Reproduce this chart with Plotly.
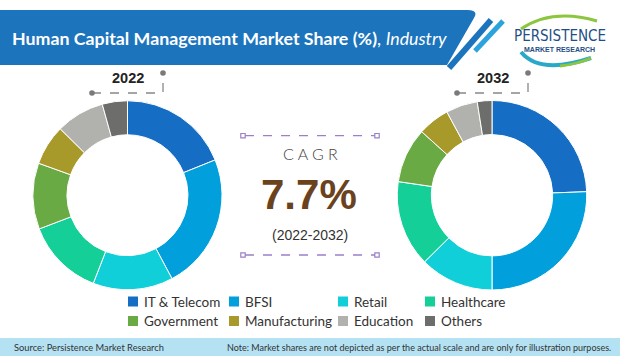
import plotly.graph_objects as go

# ---- data ----
industries = ["IT & Telecom", "BFSI", "Retail", "Healthcare",
              "Government", "Manufacturing", "Education", "Others"]
share_2022 = [18.9, 23.3, 13.7, 13.3, 11.3, 6.9, 8.3, 4.3]
share_2032 = [24.4, 25.6, 12.6, 14.7, 9.4, 5.4, 5.4, 2.5]
colors = ["#166dc4", "#019fdb", "#10cfd9", "#14cf97",
          "#6aaa44", "#a8992b", "#b1b1ad", "#6d6d6b"]
years = ["2022", "2032"]
cagr_value = "7.7%"
cagr_period = "(2022-2032)"
title_main = "Human Capital Management Market Share (%)"
title_sub = "Industry"
source_text = "Source: Persistence Market Research"
note_text = "Note: Market shares are not depicted as per the actual scale and are only for illustration purposes."

W, H = 620, 356

fig = go.Figure()

# donuts
domains = [dict(x=[33 / W, 222 / W], y=[1 - 290 / H, 1 - 100.5 / H]),
           dict(x=[397 / W, 587 / W], y=[1 - 290 / H, 1 - 100.5 / H])]
for vals, dom, yr in zip([share_2022, share_2032], domains, years):
    fig.add_trace(go.Pie(
        labels=industries, values=vals, domain=dom, hole=0.64,
        sort=False, direction="clockwise", rotation=0,
        marker=dict(colors=colors, line=dict(color="white", width=1)),
        textinfo="none", hoverinfo="label+percent", showlegend=False, name=yr))

# invisible pixel axes for decorations
fig.add_trace(go.Scatter(x=[0, W], y=[0, H], mode="markers",
                         marker=dict(opacity=0), showlegend=False, hoverinfo="skip"))

shapes = []
annotations = []

# header band
shapes.append(dict(type="path", xref="x", yref="y",
                   path="M 0 10 L 467 10 Q 479 10 474 18 L 447 65 L 0 65 Z",
                   fillcolor="#1c74bc", line=dict(width=0), layer="below"))
shapes.append(dict(type="line", xref="x", yref="y", x0=449, y0=68, x1=491, y1=20,
                   line=dict(color="#1c74bc", width=6)))
shapes.append(dict(type="line", xref="x", yref="y", x0=475, y0=51, x1=503, y1=21,
                   line=dict(color="#2ba3dc", width=5)))
annotations.append(dict(x=10, y=38, xref="x", yref="y", xanchor="left", yanchor="middle",
                        text=f"<b>{title_main}</b>, <i>{title_sub}</i>", showarrow=False,
                        font=dict(family="Lato, Open Sans, sans-serif", size=17.8, color="white")))

# logo
shapes.append(dict(type="path", xref="x", yref="y",
                   path="M 521 29 Q 552 8 597 21", line=dict(color="#8cc63f", width=3)))
shapes.append(dict(type="path", xref="x", yref="y",
                   path="M 521 52 Q 540 75 591 58", line=dict(color="#2aa8c8", width=4)))
shapes.append(dict(type="path", xref="x", yref="y",
                   path="M 560 66 Q 578 64 591 58", line=dict(color="#8cc63f", width=3)))
annotations.append(dict(x=559.5, y=35.5, xref="x", yref="y", xanchor="center", yanchor="middle",
                        text="PERSISTENCE", showarrow=False, borderpad=0,
                        font=dict(family="Liberation Sans Narrow, DejaVu Sans Condensed, Arial Narrow, sans-serif",
                                  size=15, color="#1f4e86")))
annotations.append(dict(x=559.5, y=49, xref="x", yref="y", xanchor="center", yanchor="middle",
                        text="<b>MARKET RESEARCH</b>", showarrow=False, borderpad=0,
                        font=dict(family="Liberation Sans Narrow, Arial Narrow, sans-serif",
                                  size=7, color="#1f4e86")))

# year labels with dashed connectors
for cx, yr in zip([127.5, 492.5], years):
    annotations.append(dict(x=cx, y=78, xref="x", yref="y", xanchor="center", yanchor="middle",
                            text=f"<b>{yr}</b>", showarrow=False,
                            font=dict(family="Liberation Sans, Arial, sans-serif", size=14.5, color="#222")))
    lx, rx = cx - 35.5, cx + 35.5
    shapes.append(dict(type="path", xref="x", yref="y",
                       path=f"M {lx} 93 L {rx} 93 L {rx} 73",
                       line=dict(color="#888", width=1.3, dash="dash")))
    for px, py in [(lx, 93), (rx, 73)]:
        shapes.append(dict(type="circle", xref="x", yref="y", x0=px - 2.8, x1=px + 2.8,
                           y0=py - 2.8, y1=py + 2.8, fillcolor="#7a7a7a", line=dict(width=0)))

# CAGR box
for yy in [135.7, 255]:
    shapes.append(dict(type="line", xref="x", yref="y", x0=245, x1=375, y0=yy, y1=yy,
                       line=dict(color="#9b7fc9", width=1.3, dash="dash")))
    for px in [243, 377]:
        shapes.append(dict(type="rect", xref="x", yref="y", x0=px - 2.2, x1=px + 2.2,
                           y0=yy - 2.2, y1=yy + 2.2, fillcolor="white",
                           line=dict(color="#9b7fc9", width=1.2)))
annotations.append(dict(x=310, y=153, xref="x", yref="y", xanchor="center", yanchor="middle",
                        text="C A G R", showarrow=False,
                        font=dict(family="Lato, Open Sans, sans-serif", size=16, color="#444", weight=300)))
annotations.append(dict(x=309, y=194, xref="x", yref="y", xanchor="center", yanchor="middle",
                        text=f"<b>{cagr_value}</b>", showarrow=False,
                        font=dict(family="Liberation Sans, Arial, sans-serif", size=42, color="#6b421e")))
annotations.append(dict(x=310, y=235, xref="x", yref="y", xanchor="center", yanchor="middle",
                        text=cagr_period, showarrow=False,
                        font=dict(family="Liberation Sans, Arial, sans-serif", size=14, color="#333")))

# custom legend
col_x = [128, 229, 338, 425]
row_y = [301.5, 321]
for i, (name, col) in enumerate(zip(industries, colors)):
    x0 = col_x[i % 4]
    y0 = row_y[i // 4]
    shapes.append(dict(type="rect", xref="x", yref="y", x0=x0, x1=x0 + 10,
                       y0=y0 - 5, y1=y0 + 5, fillcolor=col, line=dict(width=0)))
    annotations.append(dict(x=x0 + 13.5, y=y0, xref="x", yref="y", xanchor="left", yanchor="middle",
                            text=name, showarrow=False,
                            font=dict(family="Lato, Open Sans, sans-serif", size=13.5, color="#333")))

# footer band
shapes.append(dict(type="rect", xref="x", yref="y", x0=0, x1=W, y0=338, y1=H,
                   fillcolor="#b4e2f3", line=dict(width=0), layer="below"))
annotations.append(dict(x=12, y=347, xref="x", yref="y", xanchor="left", yanchor="middle",
                        text=source_text, showarrow=False,
                        font=dict(family="Lato, Open Sans, sans-serif", size=9.3, color="#333")))
annotations.append(dict(x=613, y=347, xref="x", yref="y", xanchor="right", yanchor="middle",
                        text=note_text, showarrow=False,
                        font=dict(family="Lato, Open Sans, sans-serif", size=9, color="#333")))

fig.update_layout(
    width=W, height=H, margin=dict(l=0, r=0, t=0, b=0),
    paper_bgcolor="white", plot_bgcolor="rgba(0,0,0,0)",
    xaxis=dict(range=[0, W], visible=False, fixedrange=True),
    yaxis=dict(range=[H, 0], visible=False, fixedrange=True),
    shapes=shapes, annotations=annotations, showlegend=False,
)

fig.write_html("out.html", config={"displayModeBar": False},
               post_script="document.body.style.margin='0';document.body.style.overflow='hidden';")
